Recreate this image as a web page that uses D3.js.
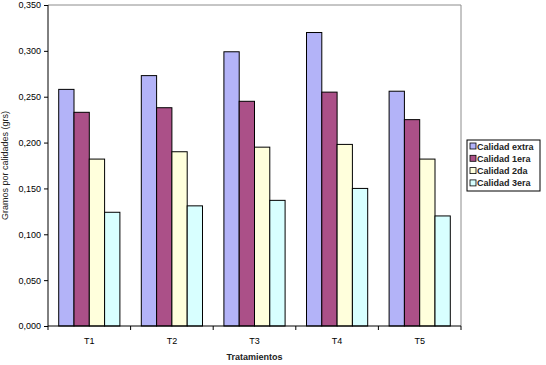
<!DOCTYPE html>
<html>
<head>
<meta charset="utf-8">
<script src="https://cdn.jsdelivr.net/npm/d3@7"></script>
<style>
body { margin: 0; background: #fff; }
text { font-family: Arial, "Liberation Sans", sans-serif; }
</style>
</head>
<body>
<div id="chart"></div>
<script>
var categories = ["T1", "T2", "T3", "T4", "T5"];
var seriesNames = ["Calidad extra", "Calidad 1era", "Calidad 2da", "Calidad 3era"];
var extra = [0.258, 0.273, 0.299, 0.320, 0.256];
var primera = [0.233, 0.238, 0.245, 0.255, 0.225];
var segunda = [0.182, 0.190, 0.195, 0.198, 0.182];
var tercera = [0.124, 0.131, 0.137, 0.150, 0.120];
var yTicks = [0, 0.05, 0.1, 0.15, 0.2, 0.25, 0.3, 0.35];
var colors = ["#b3b3f8", "#ab5088", "#ffffdc", "#d8ffff"];

var series = [extra, primera, segunda, tercera];

var margin = {top: 5, right: 85, bottom: 39, left: 48},
    width = 546 - margin.left - margin.right,
    height = 365 - margin.top - margin.bottom;

var svg = d3.select("#chart")
  .append("svg")
  .attr("width", 546)
  .attr("height", 365)
  .append("g")
  .attr("transform", "translate(" + margin.left + "," + margin.top + ")");

var x = d3.scaleBand()
  .domain(categories)
  .range([0, width])
  .paddingInner(0)
  .paddingOuter(0);

var x1 = d3.scaleBand()
  .domain(d3.range(series.length))
  .range([0, x.bandwidth()])
  .paddingOuter(0.7);

var y = d3.scaleLinear()
  .domain([0, 0.35])
  .range([height, 0]);

// plot frame (top and right, gray)
svg.append("path")
  .attr("d", "M0,0H" + width + "V" + height)
  .attr("fill", "none")
  .attr("stroke", "#8c8c8c")
  .attr("stroke-width", 1);

// bars
var groups = svg.append("g")
  .selectAll("g")
  .data(categories)
  .enter()
  .append("g")
  .attr("transform", function(d) { return "translate(" + x(d) + ",0)"; });

groups.selectAll("rect")
  .data(function(d, i) { return series.map(function(s, j) { return {s: j, v: s[i]}; }); })
  .enter()
  .append("rect")
  .attr("x", function(d) { return x1(d.s); })
  .attr("y", function(d) { return y(d.v); })
  .attr("width", x1.bandwidth())
  .attr("height", function(d) { return height - y(d.v); })
  .attr("fill", function(d) { return colors[d.s]; })
  .attr("stroke", "#000")
  .attr("stroke-width", 1);

// y axis
var yAxis = svg.append("g")
  .call(d3.axisLeft(y)
    .tickValues(yTicks)
    .tickSize(4)
    .tickFormat(function(d) { return d3.format(".3f")(d).replace(".", ","); }));
yAxis.select(".domain").attr("d", "M0,0V" + height);
yAxis.selectAll("text").attr("font-size", 9).attr("fill", "#000").attr("font-family", "Arial, sans-serif");

// x axis with ticks at band boundaries
var xAxis = svg.append("g")
  .attr("transform", "translate(0," + height + ")");
xAxis.append("line")
  .attr("x1", 0).attr("x2", width)
  .attr("stroke", "#000");
xAxis.selectAll(".tk")
  .data(categories.concat(["end"]))
  .enter()
  .append("line")
  .attr("x1", function(d, i) { return i < categories.length ? x(d) : width; })
  .attr("x2", function(d, i) { return i < categories.length ? x(d) : width; })
  .attr("y1", 0).attr("y2", 4)
  .attr("stroke", "#000");
xAxis.selectAll(".lbl")
  .data(categories)
  .enter()
  .append("text")
  .attr("x", function(d) { return x(d) + x.bandwidth() / 2; })
  .attr("y", 18)
  .attr("text-anchor", "middle")
  .attr("font-size", 9)
  .text(function(d) { return d; });

// axis titles
svg.append("text")
  .attr("x", width / 2)
  .attr("y", height + 34)
  .attr("text-anchor", "middle")
  .attr("font-size", 9)
  .attr("font-weight", "bold")
  .attr("fill", "#222")
  .text("Tratamientos");

svg.append("text")
  .attr("transform", "translate(-40," + (height / 2) + ") rotate(-90)")
  .attr("text-anchor", "middle")
  .attr("font-size", 9)
  .attr("fill", "#222")
  .text("Gramos por calidades (grs)");

// legend
var legend = d3.select("svg").append("g")
  .attr("transform", "translate(467,140)");
legend.append("rect")
  .attr("width", 73)
  .attr("height", 51)
  .attr("fill", "#fff")
  .attr("stroke", "#000");
var items = legend.selectAll(".item")
  .data(seriesNames)
  .enter()
  .append("g")
  .attr("transform", function(d, i) { return "translate(3," + (8 + i * 12.3) + ")"; });
items.append("rect")
  .attr("x", 0).attr("y", -5)
  .attr("width", 6).attr("height", 6)
  .attr("fill", function(d, i) { return colors[i]; })
  .attr("stroke", "#000")
  .attr("stroke-width", 0.8);
items.append("text")
  .attr("x", 7)
  .attr("y", 1.5)
  .attr("font-size", 9)
  .attr("font-weight", "bold")
  .attr("fill", "#222")
  .text(function(d) { return d; });
</script>
</body>
</html>
